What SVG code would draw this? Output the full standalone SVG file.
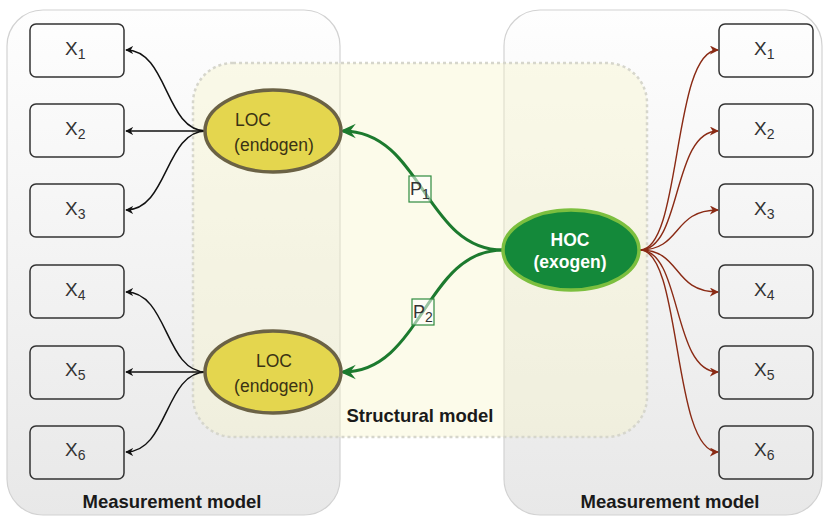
<svg xmlns="http://www.w3.org/2000/svg" width="825" height="517" viewBox="0 0 825 517">
  <defs>
    <linearGradient id="panelGrad" x1="0" y1="0" x2="0" y2="1">
      <stop offset="0" stop-color="#fefefe"/>
      <stop offset="1" stop-color="#e8e8e8"/>
    </linearGradient>
    <marker id="arrBlack" viewBox="0 0 10 10" refX="9" refY="5" markerWidth="8" markerHeight="8" markerUnits="userSpaceOnUse" orient="auto">
      <path d="M0,0 L10,5 L0,10 L3,5 Z" fill="#111"/>
    </marker>
    <marker id="arrBrown" viewBox="0 0 10 10" refX="9" refY="5" markerWidth="9" markerHeight="9" markerUnits="userSpaceOnUse" orient="auto">
      <path d="M0,0 L10,5 L0,10 L3,5 Z" fill="#8a2a14"/>
    </marker>
    <marker id="arrGreen" viewBox="0 0 10 10" refX="8" refY="5" markerWidth="16" markerHeight="16" markerUnits="userSpaceOnUse" orient="auto">
      <path d="M0,0.5 L10,5 L0,9.5 L3.5,5 Z" fill="#1c7a2e"/>
    </marker>
  </defs>
  <style>
    .panel { fill: url(#panelGrad); stroke: #d2d2d2; stroke-width: 1.2; }
    .struct { fill: #f8f5c8; fill-opacity: 0.38; stroke: #d6d6cc; stroke-width: 2.5; stroke-dasharray: 3 3; }
    .box { fill: none; stroke: #333; stroke-width: 1.5; }
    .xl { font-family: "Liberation Sans", Arial, sans-serif; font-size: 19px; fill: #333; }
    .sub { font-size: 14px; }
    .loc { fill: #e4d64e; stroke: #6b6245; stroke-width: 3.5; }
    .hoc { fill: #14893a; stroke: #7cbf3f; stroke-width: 3.5; }
    .lt { font-family: "Liberation Sans", Arial, sans-serif; font-size: 17.5px; fill: #3a3214; }
    .ht { font-family: "Liberation Sans", Arial, sans-serif; font-size: 17.5px; font-weight: bold; fill: #ffffff; text-anchor: middle; }
    .title { font-family: "Liberation Sans", Arial, sans-serif; font-size: 18.5px; font-weight: bold; fill: #1a1a1a; text-anchor: middle; }
    .blk { fill: none; stroke: #111; stroke-width: 1.5; marker-end: url(#arrBlack); }
    .brn { fill: none; stroke: #8a2a14; stroke-width: 1.4; marker-end: url(#arrBrown); }
    .grn { fill: none; stroke: #1c7a2e; stroke-width: 3; marker-end: url(#arrGreen); }
    .pbox { fill: #ffffff; fill-opacity: 0.55; stroke: #2e8b3e; stroke-width: 1.2; }
    .pl { font-family: "Liberation Sans", Arial, sans-serif; font-size: 18px; fill: #333; }
  </style>

  <!-- background panels -->
  <rect class="panel" x="7" y="10" width="333" height="505" rx="36"/>
  <rect class="panel" x="504" y="10" width="318" height="505" rx="36"/>
  <rect class="struct" x="193" y="63" width="454" height="374" rx="40"/>

  <text class="title" x="172" y="508">Measurement model</text>
  <text class="title" x="670" y="508">Measurement model</text>
  <text class="title" x="420" y="422">Structural model</text>

  <!-- connectors -->
  <g id="connectors">
    <path class="blk" d="M206,131 C165,131 168,50 126,50"/>
    <path class="blk" d="M206,131 L126,131"/>
    <path class="blk" d="M206,131 C165,131 168,210 126,210"/>
    <path class="blk" d="M206,372 C165,372 168,292 126,292"/>
    <path class="blk" d="M206,372 L126,372"/>
    <path class="blk" d="M206,372 C165,372 168,452 126,452"/>

    <path class="grn" d="M503,250 C425,250 422,131 343,131"/>
    <path class="grn" d="M503,250 C425,250 422,372 343,372"/>

    <path class="brn" d="M640,250 C682,250 672,50 718,50"/>
    <path class="brn" d="M640,250 C682,250 672,131 718,131"/>
    <path class="brn" d="M640,250 C682,250 672,210 718,210"/>
    <path class="brn" d="M640,250 C682,250 672,292 718,292"/>
    <path class="brn" d="M640,250 C682,250 672,372 718,372"/>
    <path class="brn" d="M640,250 C682,250 672,452 718,452"/>

    <g id="p1">
      <rect class="pbox" x="409" y="176" width="22" height="26"/>
      <text class="pl" x="410" y="195">P<tspan class="sub" dy="4">1</tspan></text>
    </g>
    <g id="p2">
      <rect class="pbox" x="412" y="299" width="22" height="26"/>
      <text class="pl" x="413" y="318">P<tspan class="sub" dy="4">2</tspan></text>
    </g>
  </g>

  <!-- left indicators -->
  <g id="lx1"><rect class="box" x="30" y="24" width="94" height="53" rx="6"/><text class="xl" x="65" y="55">X<tspan class="sub" dy="4">1</tspan></text></g>
  <g id="lx2"><rect class="box" x="30" y="104" width="94" height="53" rx="6"/><text class="xl" x="65" y="135">X<tspan class="sub" dy="4">2</tspan></text></g>
  <g id="lx3"><rect class="box" x="30" y="184" width="94" height="53" rx="6"/><text class="xl" x="65" y="215">X<tspan class="sub" dy="4">3</tspan></text></g>
  <g id="lx4"><rect class="box" x="30" y="265" width="94" height="53" rx="6"/><text class="xl" x="65" y="296">X<tspan class="sub" dy="4">4</tspan></text></g>
  <g id="lx5"><rect class="box" x="30" y="346" width="94" height="53" rx="6"/><text class="xl" x="65" y="376">X<tspan class="sub" dy="4">5</tspan></text></g>
  <g id="lx6"><rect class="box" x="30" y="426" width="94" height="53" rx="6"/><text class="xl" x="65" y="456">X<tspan class="sub" dy="4">6</tspan></text></g>

  <!-- right indicators -->
  <g id="rx1"><rect class="box" x="719" y="24" width="94" height="53" rx="6"/><text class="xl" x="754" y="55">X<tspan class="sub" dy="4">1</tspan></text></g>
  <g id="rx2"><rect class="box" x="719" y="104" width="94" height="53" rx="6"/><text class="xl" x="754" y="135">X<tspan class="sub" dy="4">2</tspan></text></g>
  <g id="rx3"><rect class="box" x="719" y="184" width="94" height="53" rx="6"/><text class="xl" x="754" y="215">X<tspan class="sub" dy="4">3</tspan></text></g>
  <g id="rx4"><rect class="box" x="719" y="265" width="94" height="53" rx="6"/><text class="xl" x="754" y="296">X<tspan class="sub" dy="4">4</tspan></text></g>
  <g id="rx5"><rect class="box" x="719" y="346" width="94" height="53" rx="6"/><text class="xl" x="754" y="376">X<tspan class="sub" dy="4">5</tspan></text></g>
  <g id="rx6"><rect class="box" x="719" y="426" width="94" height="53" rx="6"/><text class="xl" x="754" y="456">X<tspan class="sub" dy="4">6</tspan></text></g>

  <!-- latent constructs -->
  <g id="loc1">
    <ellipse class="loc" cx="273" cy="131" rx="68" ry="41"/>
    <text class="lt" x="235" y="126">LOC</text>
    <text class="lt" x="274" y="151" text-anchor="middle">(endogen)</text>
  </g>
  <g id="loc2">
    <ellipse class="loc" cx="273" cy="372" rx="68" ry="41"/>
    <text class="lt" x="274" y="367" text-anchor="middle">LOC</text>
    <text class="lt" x="274" y="392" text-anchor="middle">(endogen)</text>
  </g>
  <g id="hoc">
    <ellipse class="hoc" cx="571" cy="250" rx="68" ry="40"/>
    <text class="ht" x="570" y="246">HOC</text>
    <text class="ht" x="570" y="268">(exogen)</text>
  </g>
</svg>
